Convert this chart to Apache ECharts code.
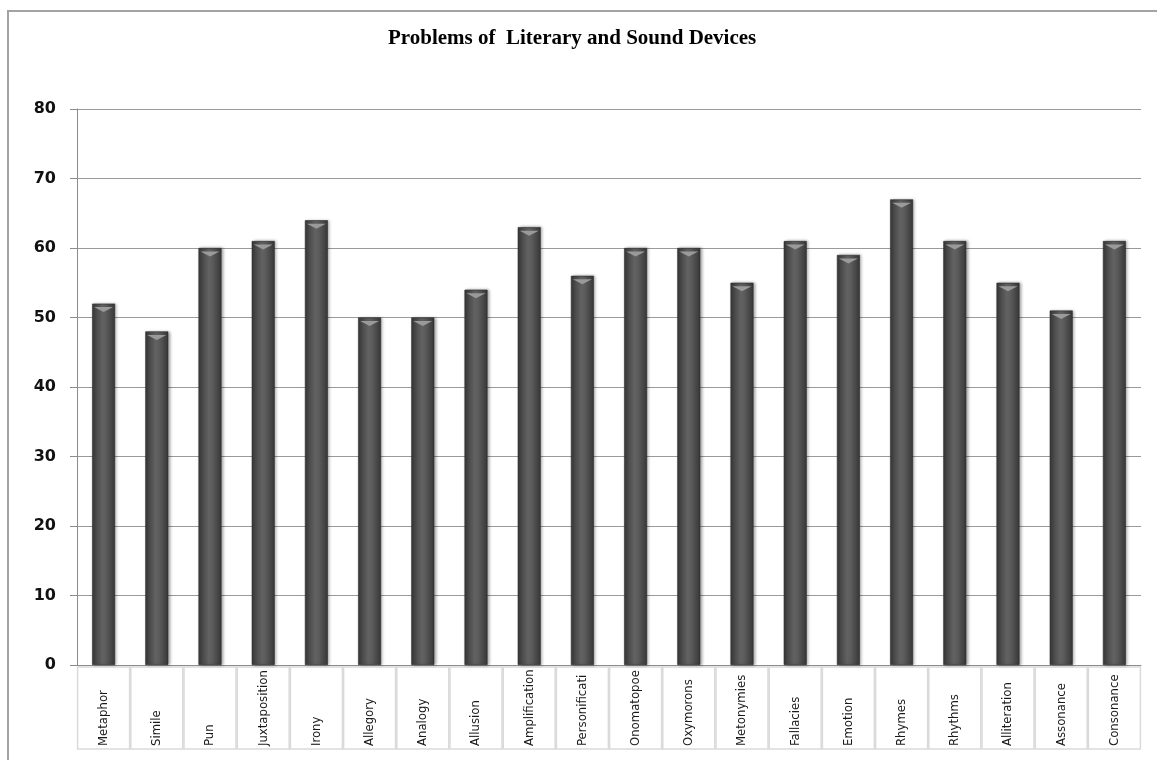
<!DOCTYPE html>
<html>
<head>
<meta charset="utf-8">
<script src="https://cdn.jsdelivr.net/npm/echarts@6/dist/echarts.min.js"></script>
<style>
  html, body { margin: 0; padding: 0; background: #ffffff; }
  #wrap { position: relative; width: 1157px; height: 760px; overflow: hidden; }
  #frame { position: absolute; left: 7px; top: 10px; width: 1200px; height: 800px;
           border-left: 2px solid #a3a3a3; border-top: 2px solid #a3a3a3; box-sizing: border-box; }
  #chart { position: absolute; left: 0; top: 0; width: 1157px; height: 760px; }
</style>
</head>
<body>
<div id="wrap">
  <div id="frame"></div>
  <div id="chart"></div>
</div>
<script>
// Device names shown along the category axis
const categories = [
  'Metaphor', 'Simile', 'Pun', 'Juxtaposition', 'Irony', 'Allegory', 'Analogy',
  'Allusion', 'Amplification', 'Personification', 'Onomatopoeia', 'Oxymorons',
  'Metonymies', 'Fallacies', 'Emotion', 'Rhymes', 'Rhythms', 'Alliteration',
  'Assonance', 'Consonance'
];

// Number of problems reported for each device
const problems = [52, 48, 60, 61, 64, 50, 50, 54, 63, 56, 60, 60, 55, 61, 59, 67, 61, 55, 51, 61];

// Value axis ticks
const yTicks = { min: 0, max: 80, step: 10 };

const chart = echarts.init(document.getElementById('chart'), null, { renderer: 'canvas' });

const barFill = new echarts.graphic.LinearGradient(0, 0, 1, 0, [
  { offset: 0, color: '#3a3a3a' },
  { offset: 0.45, color: '#626262' },
  { offset: 0.6, color: '#5c5c5c' },
  { offset: 1, color: '#373737' }
]);

chart.setOption({
  animation: false,
  title: {
    text: 'Problems of  Literary and Sound Devices',
    left: 383,
    top: 23,
    textStyle: {
      fontFamily: '"Liberation Serif", "Times New Roman", serif',
      fontWeight: 'bold',
      fontSize: 21,
      color: '#000000'
    }
  },
  grid: { left: 77, right: 16, top: 109, bottom: 95 },
  xAxis: {
    type: 'category',
    data: categories,
    boundaryGap: true,
    axisLine: { show: true, lineStyle: { color: '#8c8c8c', width: 1 } },
    axisTick: { show: false },
    axisLabel: {
      interval: 0,
      rotate: 90,
      margin: 84,
      align: 'left',
      verticalAlign: 'middle',
      width: 79,
      overflow: 'truncate',
      ellipsis: '',
      lineHeight: 52,
      padding: [0, 0, 0, 3],
      borderColor: '#dadada',
      borderWidth: 1.5,
      fontFamily: '"DejaVu Sans Condensed", "Liberation Sans Narrow", sans-serif',
      fontSize: 13,
      color: '#1a1a1a'
    }
  },
  yAxis: {
    type: 'value',
    min: yTicks.min,
    max: yTicks.max,
    interval: yTicks.step,
    axisLine: { show: true, lineStyle: { color: '#8c8c8c', width: 1 } },
    axisTick: { show: true, length: 7, lineStyle: { color: '#8c8c8c' } },
    splitLine: { show: true, lineStyle: { color: '#9a9a9a', width: 1 } },
    axisLabel: {
      margin: 21,
      fontFamily: '"DejaVu Sans", Verdana, sans-serif',
      fontWeight: 'bold',
      fontSize: 16,
      color: '#111111'
    }
  },
  series: [
    {
      name: 'Problems',
      type: 'bar',
      data: problems,
      barWidth: 23,
      barGap: '-100%',
      itemStyle: {
        color: barFill,
        borderColor: '#2e2e2e',
        borderWidth: 0.6,
        shadowColor: 'rgba(0,0,0,0.35)',
        shadowBlur: 3,
        shadowOffsetX: 1.5,
        shadowOffsetY: 0
      }
    },
    {
      // light bevel at the top of each bar
      name: 'Cap',
      type: 'pictorialBar',
      data: problems,
      barWidth: 23,
      barGap: '-100%',
      symbol: 'path://M0,0 L20,0 L10,5 Z',
      symbolSize: [19, 5],
      symbolPosition: 'end',
      symbolOffset: [0, 3.5],
      itemStyle: { color: '#9a9a9a' },
      z: 3,
      silent: true
    }
  ]
});
</script>
</body>
</html>
